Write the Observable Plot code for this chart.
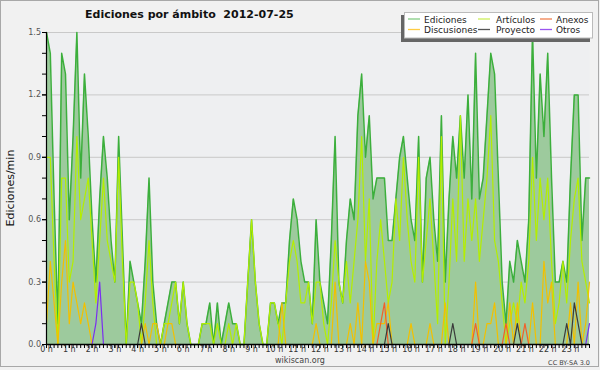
<!DOCTYPE html>
<html><head><meta charset="utf-8">
<script src="https://cdn.jsdelivr.net/npm/d3@7"></script>
<script src="https://cdn.jsdelivr.net/npm/@observablehq/plot@0.6"></script>
<style>
html,body{margin:0;padding:0;background:#f1f1f1;}
#chart{width:600px;height:370px;}
svg text{font-family:"DejaVu Sans",sans-serif;}
</style></head><body><div id="chart"></div>
<script>
// ---- data: edits per minute, 10-minute steps, 2012-07-25 ----
const hourLabels = ["0 h","1 h","2 h","3 h","4 h","5 h","6 h","7 h","8 h","9 h","10 h","11 h","12 h","13 h","14 h","15 h","16 h","17 h","18 h","19 h","20 h","21 h","22 h","23 h"];
const yTickValues = [0, 0.3, 0.6, 0.9, 1.2, 1.5];
const yTickLabels = ["0.0","0.3","0.6","0.9","1.2","1.5"];

const ediciones = [
1.5,1.4,0.7,0.1,1.4,1.3,0.6,1.0,1.5,0.8,
1.3,1.0,0.6,0.3,0.7,1.0,0.8,0.5,0.3,1.0,
0.5,0.0,0.4,0.3,0.2,0.1,0.4,0.8,0.3,0.1,
0.0,0.1,0.2,0.3,0.3,0.1,0.3,0.1,0.0,0.0,
0.0,0.1,0.1,0.2,0.0,0.2,0.0,0.1,0.2,0.1,
0.1,0.0,0.0,0.3,0.6,0.3,0.1,0.0,0.0,0.2,
0.2,0.1,0.2,0.2,0.5,0.7,0.6,0.4,0.3,0.3,
0.1,0.6,0.3,0.2,0.1,0.5,1.0,0.3,0.2,0.5,
0.7,0.6,1.1,1.3,0.9,1.1,0.7,0.8,0.8,0.8,
0.5,0.5,0.7,0.9,1.0,0.8,0.6,0.5,1.0,0.3,
0.8,0.9,0.6,0.4,1.1,0.3,0.7,1.0,0.8,1.1,
0.8,1.2,0.7,1.4,0.7,0.8,1.1,1.4,1.3,0.8,
0.3,0.1,0.4,0.3,0.5,0.4,0.3,0.6,1.5,0.8,
1.3,1.0,1.4,0.8,0.3,0.3,0.4,0.3,0.8,1.2,
1.2,0.5,0.8,0.8];
const articulos = [
0.9,0.9,0.4,0.0,0.8,0.8,0.3,0.4,1.0,0.6,
0.7,0.8,0.5,0.2,0.5,0.8,0.5,0.4,0.3,0.9,
0.4,0.0,0.3,0.3,0.2,0.0,0.2,0.5,0.2,0.0,
0.0,0.1,0.1,0.2,0.3,0.1,0.3,0.1,0.0,0.0,
0.0,0.1,0.1,0.1,0.0,0.1,0.0,0.0,0.1,0.0,
0.1,0.0,0.0,0.3,0.6,0.3,0.1,0.0,0.0,0.2,
0.2,0.1,0.0,0.2,0.4,0.5,0.4,0.2,0.2,0.3,
0.1,0.3,0.3,0.1,0.0,0.2,0.5,0.3,0.2,0.4,
0.2,0.4,0.6,1.0,0.4,0.7,0.0,0.4,0.6,0.4,
0.2,0.3,0.7,0.5,0.9,0.6,0.4,0.3,0.9,0.3,
0.5,0.7,0.4,0.1,1.0,0.0,0.3,0.7,0.4,1.1,
0.4,0.7,0.5,0.7,0.4,0.6,0.8,1.1,0.5,0.4,
0.2,0.0,0.1,0.2,0.1,0.3,0.2,0.4,0.9,0.5,
0.8,0.6,0.8,0.4,0.1,0.2,0.4,0.2,0.5,0.7,
0.8,0.4,0.3,0.2];
const discusiones = [
0.1,0.4,0.2,0.0,0.3,0.5,0.1,0.3,0.2,0.1,
0.2,0.1,0,0,0,0,0,0,0,0,
0,0,0,0,0,0,0.1,0,0.1,0.1,
0,0,0.1,0.1,0,0,0,0,0,0,
0,0,0,0,0,0,0,0,0,0,
0,0,0,0,0,0,0,0,0,0,
0,0,0.2,0,0,0,0,0,0,0,
0,0.1,0,0,0,0,0.3,0,0,0,
0.1,0,0.2,0,0.4,0.3,0,0.1,0.1,0.1,
0.2,0,0,0,0,0,0.1,0,0,0,
0,0.1,0,0,0,0.2,0,0,0,0,
0,0,0,0.3,0,0,0.1,0.1,0.2,0,
0,0,0.2,0,0.2,0,0,0,0.2,0,
0,0.4,0.2,0.3,0,0,0,0,0.2,0,
0.3,0,0.1,0.3];
const anexos = [
0,0,0,0,0,0,0,0,0,0, 0,0,0,0,0,0,0,0,0,0,
0,0,0,0,0,0,0,0,0,0, 0,0,0,0,0,0,0,0,0,0,
0,0,0,0,0,0,0,0,0,0, 0,0,0,0,0,0,0,0,0,0,
0,0,0,0,0,0,0,0,0,0, 0,0,0,0,0,0,0,0,0,0,
0,0,0,0,0,0,0,0,0.1,0.2, 0,0,0,0,0,0,0,0,0,0,
0,0,0,0,0,0,0,0,0,0, 0,0,0,0.1,0,0,0,0,0,0,
0,0.1,0,0,0,0,0.1,0,0,0, 0,0,0,0,0,0,0,0,0,0,
0,0,0,0];
const proyecto = [
0,0,0,0,0,0,0,0,0,0, 0,0,0,0,0,0,0,0,0,0,
0,0,0,0,0,0.1,0,0,0,0, 0,0,0,0,0,0,0,0,0,0,
0,0,0,0,0,0,0,0,0,0, 0,0,0,0,0,0,0,0,0,0,
0,0,0,0,0,0,0,0,0,0, 0,0,0,0,0,0,0,0,0,0,
0,0,0,0,0,0,0,0,0,0, 0.1,0,0,0,0,0,0,0,0,0,
0,0,0,0,0,0,0,0.1,0,0, 0,0,0,0,0,0,0,0,0,0,
0,0,0,0,0.1,0,0,0,0,0, 0,0,0,0,0,0,0,0.1,0,0.2,
0.1,0,0,0];
const otros = [
0,0,0,0,0,0,0,0,0,0, 0,0,0,0.1,0.3,0,0,0,0,0,
0,0,0,0,0,0,0,0,0,0, 0,0,0,0,0,0,0,0,0,0,
0,0,0,0,0,0,0,0,0,0, 0,0,0,0,0,0,0,0,0,0,
0,0,0,0,0,0,0,0,0,0, 0,0,0,0,0,0,0,0,0,0,
0,0,0,0,0,0,0,0,0,0, 0,0,0,0,0,0,0,0,0,0,
0,0,0,0,0,0,0,0,0,0, 0,0,0,0,0,0,0,0,0,0,
0,0,0,0,0,0,0,0,0,0, 0,0,0,0,0,0,0,0,0,0,
0,0,0,0.1];

const seriesNames = ["Ediciones","Artículos","Anexos","Discusiones","Proyecto","Otros"];
const lineColors = {"Ediciones":"#3caf3c","Artículos":"#b4ee00","Discusiones":"#f2c000","Anexos":"#f2602a","Proyecto":"#3a3a3a","Otros":"#7a2ff0"};
const legendColors = {"Ediciones":"#84cc84","Artículos":"#cdee5a","Discusiones":"#ffcc44","Anexos":"#f08050","Proyecto":"#555555","Otros":"#9a55f0"};

const valuesByName = {"Ediciones":ediciones,"Artículos":articulos,"Discusiones":discusiones,"Anexos":anexos,"Proyecto":proyecto,"Otros":otros};
const idx = d3.range(ediciones.length);
const hourIdx = idx.filter(i => i % 6 === 0);
const minorY = d3.range(0, 16).map(d => d / 10);
const rows = idx.map(i => ({i, total: ediciones[i]}));
const drawOrder = ["Artículos","Discusiones","Anexos","Proyecto","Otros"];
const lineMarks = drawOrder.map(name =>
  Plot.lineY(idx.map(i => ({i, v: valuesByName[name][i]})), {x:"i", y:"v", stroke: lineColors[name], strokeWidth: 1.2})
);

const plot = Plot.plot({
  width: 600, height: 370,
  marginLeft: 46, marginRight: 11, marginTop: 32, marginBottom: 26,
  style: {background: "transparent", fontFamily: "DejaVu Sans", fontSize: "8px", color: "#333", overflow: "visible"},
  x: {domain: [0, ediciones.length - 1], label: null},
  y: {domain: [0, 1.5], label: null},
  marks: [
    Plot.frame({fill: "#eeeff1", stroke: null}),
    Plot.gridY(yTickValues.slice(1), {stroke: "#c9c9c9", strokeOpacity: 1}),
    Plot.areaY(rows, {x: "i", y: "total", fill: "#9dca9d"}),
    Plot.lineY(rows, {x: "i", y: "total", stroke: lineColors["Ediciones"], strokeWidth: 1.5}),
    ...lineMarks,
    Plot.ruleY([0], {stroke: "#000", strokeWidth: 1.4}),
    Plot.ruleX([0], {stroke: "#000", strokeWidth: 1.2}),
    // minor ticks (every 0.1 and every 10 minutes)
    Plot.ruleY(minorY, {y: d => d, x1: 0, x2: 0, insetLeft: -4, stroke: "#000"}),
    Plot.ruleX(idx, {x: d => d, y1: 0, y2: 0, insetBottom: -4, stroke: "#000"}),
    Plot.axisY({ticks: yTickValues, tickFormat: (d, k) => yTickLabels[k], tickSize: 4, tickPadding: 1.5, fontSize: 8, fill: "#555", stroke: "#000", label: null}),
    Plot.axisX({ticks: hourIdx, tickFormat: d => hourLabels[d / 6], tickSize: 4, tickPadding: -2, fontSize: 8, fill: "#333", stroke: "#000", label: null})
  ]
});
document.getElementById("chart").appendChild(plot);

const svg = d3.select(plot);
// outer frame
svg.insert("rect", ":first-child").attr("x", 0.5).attr("y", 0.5).attr("width", 598).attr("height", 366)
  .style("fill", "#f1f1f1").style("stroke", "#a8a8a8");

// title
svg.append("text").attr("x", 85).attr("y", 17.5).attr("text-anchor", "start").attr("font-size", 11).attr("font-weight", "bold")
  .attr("fill", "#111").style("white-space", "pre").text("Ediciones por ámbito  2012-07-25");

// y label
svg.append("text").attr("transform", "translate(13.5,188) rotate(-90)").attr("text-anchor", "middle")
  .attr("font-size", 11).attr("fill", "#111").text("Ediciones/min");

// credits
svg.append("text").attr("x", 300).attr("y", 363).attr("text-anchor", "middle").attr("font-size", 8)
  .attr("fill", "#444").text("wikiscan.org");
svg.append("text").attr("x", 590).attr("y", 364.5).attr("text-anchor", "end").attr("font-size", 6.5)
  .attr("fill", "#444").text("CC BY-SA 3.0");

// legend
const lg = svg.append("g");
lg.append("rect").attr("x", 401).attr("y", 15).attr("width", 189).attr("height", 27)
  .style("fill", "#666").style("stroke", "none");
lg.append("rect").attr("x", 404.5).attr("y", 12.5).attr("width", 188).attr("height", 25.5)
  .style("fill", "#ffffff").style("fill-opacity", 1).style("stroke", "#bbb");
const colX = [408, 478, 540];
const textX = [424, 496, 556];
const rowY = [19, 29.5];
seriesNames.forEach((name, k) => {
  const c = k % 3, r = Math.floor(k / 3);
  lg.append("line").attr("x1", colX[c]).attr("x2", colX[c] + 12).attr("y1", rowY[r]).attr("y2", rowY[r])
    .style("stroke", legendColors[name]).style("stroke-width", 1.3);
  lg.append("text").attr("x", textX[c]).attr("y", rowY[r] + 3.5).attr("text-anchor", "start").attr("font-size", 9).attr("fill", "#222").text(name);
});
</script></body></html>
